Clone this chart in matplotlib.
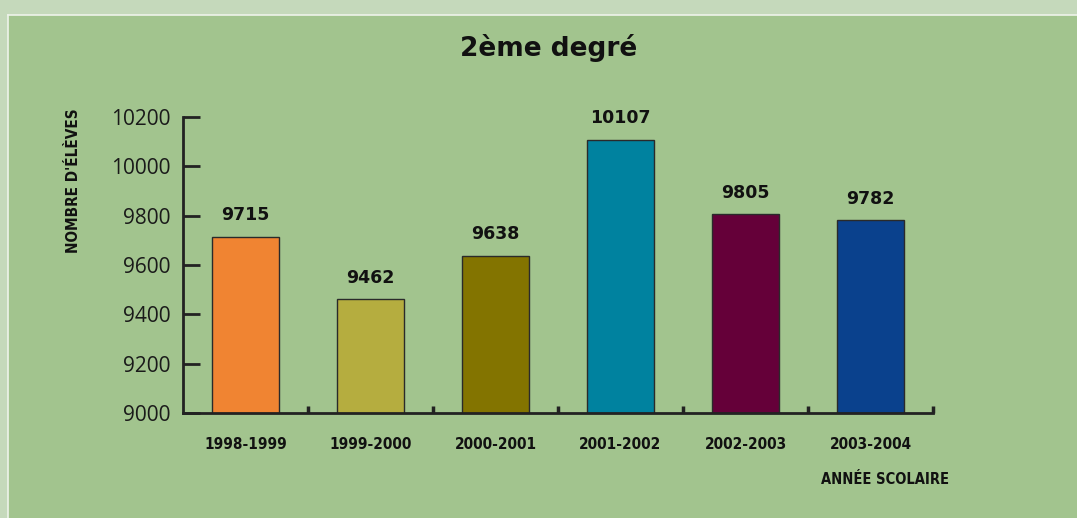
import matplotlib
matplotlib.use("Agg")
import matplotlib.pyplot as plt
from matplotlib.patches import Rectangle
from matplotlib import font_manager
import numpy as np

annees = ["1998-1999", "1999-2000", "2000-2001", "2001-2002", "2002-2003", "2003-2004"]
eleves = [9715, 9462, 9638, 10107, 9805, 9782]
couleurs = ["#f08432", "#b5ad3f", "#837400", "#00829f", "#650039", "#0a418d"]
yticks = [9000, 9200, 9400, 9600, 9800, 10000, 10200]

# police etroite si dispo
noms = {f.name for f in font_manager.fontManager.ttflist}
etroite = "Liberation Sans Narrow" if "Liberation Sans Narrow" in noms else "DejaVu Sans"
chiffres = "Open Sans" if "Open Sans" in noms else "DejaVu Sans"

W, H = 1077, 518
fig = plt.figure(figsize=(W/100, H/100), dpi=100, facecolor="#c5d9bb")

# fond vert interieur
fig.patches.append(Rectangle((8/W, 0), 1, 1 - 15/H, transform=fig.transFigure,
                             facecolor="#a2c48e", edgecolor="none", zorder=-2))
fig.lines.append(plt.Line2D([8/W, 1], [1 - 15/H, 1 - 15/H], transform=fig.transFigure,
                            color="#eef3ea", lw=1.2, zorder=-1))
fig.lines.append(plt.Line2D([8/W, 8/W], [0, 1 - 15/H], transform=fig.transFigure,
                            color="#eef3ea", lw=1.2, zorder=-1))

ax = fig.add_axes([183/W, 105/H, 750/W, 296/H])
ax.set_facecolor("none")

x = np.arange(len(annees))
ax.bar(x, eleves, width=0.53, color=couleurs, edgecolor="#2a2a2a", linewidth=1, zorder=2)
for xi, v in zip(x, eleves):
    ax.annotate(str(v), (xi, v), xytext=(0, 9), textcoords="offset points",
                ha="center", va="bottom", fontsize=12.5, fontweight="bold",
                color="#111111")

ax.set_xlim(-0.5, len(annees) - 0.5)
ax.set_ylim(9000, 10200)

for s in ["top", "right"]:
    ax.spines[s].set_visible(False)
ax.spines["left"].set_linewidth(2)
ax.spines["bottom"].set_linewidth(2)
ax.spines["left"].set_color("#222222")
ax.spines["bottom"].set_color("#222222")

ax.set_yticks(yticks)
ax.set_yticklabels([str(t) for t in yticks], fontfamily=chiffres, fontsize=15, color="#1a1a1a")
ax.tick_params(axis="y", direction="in", length=12, width=2, color="#222222", pad=9)

ax.set_xticks(x + 0.5)
ax.set_xticklabels([])
ax.tick_params(axis="x", direction="in", length=5, width=2.5, color="#222222")
ax.set_xticks(x, minor=True)
ax.set_xticklabels(annees, minor=True, fontfamily=etroite, fontweight="bold",
                   fontstretch="condensed", fontsize=11, color="#111111")
ax.tick_params(axis="x", which="minor", length=0, pad=17)

fig.text(549/W, 1 - 48/H, "2ème degré", ha="center", va="center",
         fontsize=19, fontweight="bold", color="#111111")
fig.text(74/W, 1 - 181/H, "NOMBRE D'ÉLÈVES", rotation=90, ha="center", va="center",
         fontfamily=etroite, fontweight="bold", fontstretch="condensed",
         fontsize=11, color="#111111")
fig.text(885/W, 1 - 480/H, "ANNÉE SCOLAIRE", ha="center", va="center",
         fontfamily=etroite, fontweight="bold", fontstretch="condensed",
         fontsize=10.5, color="#111111")

fig.savefig("out.png", dpi=100, facecolor=fig.get_facecolor())
